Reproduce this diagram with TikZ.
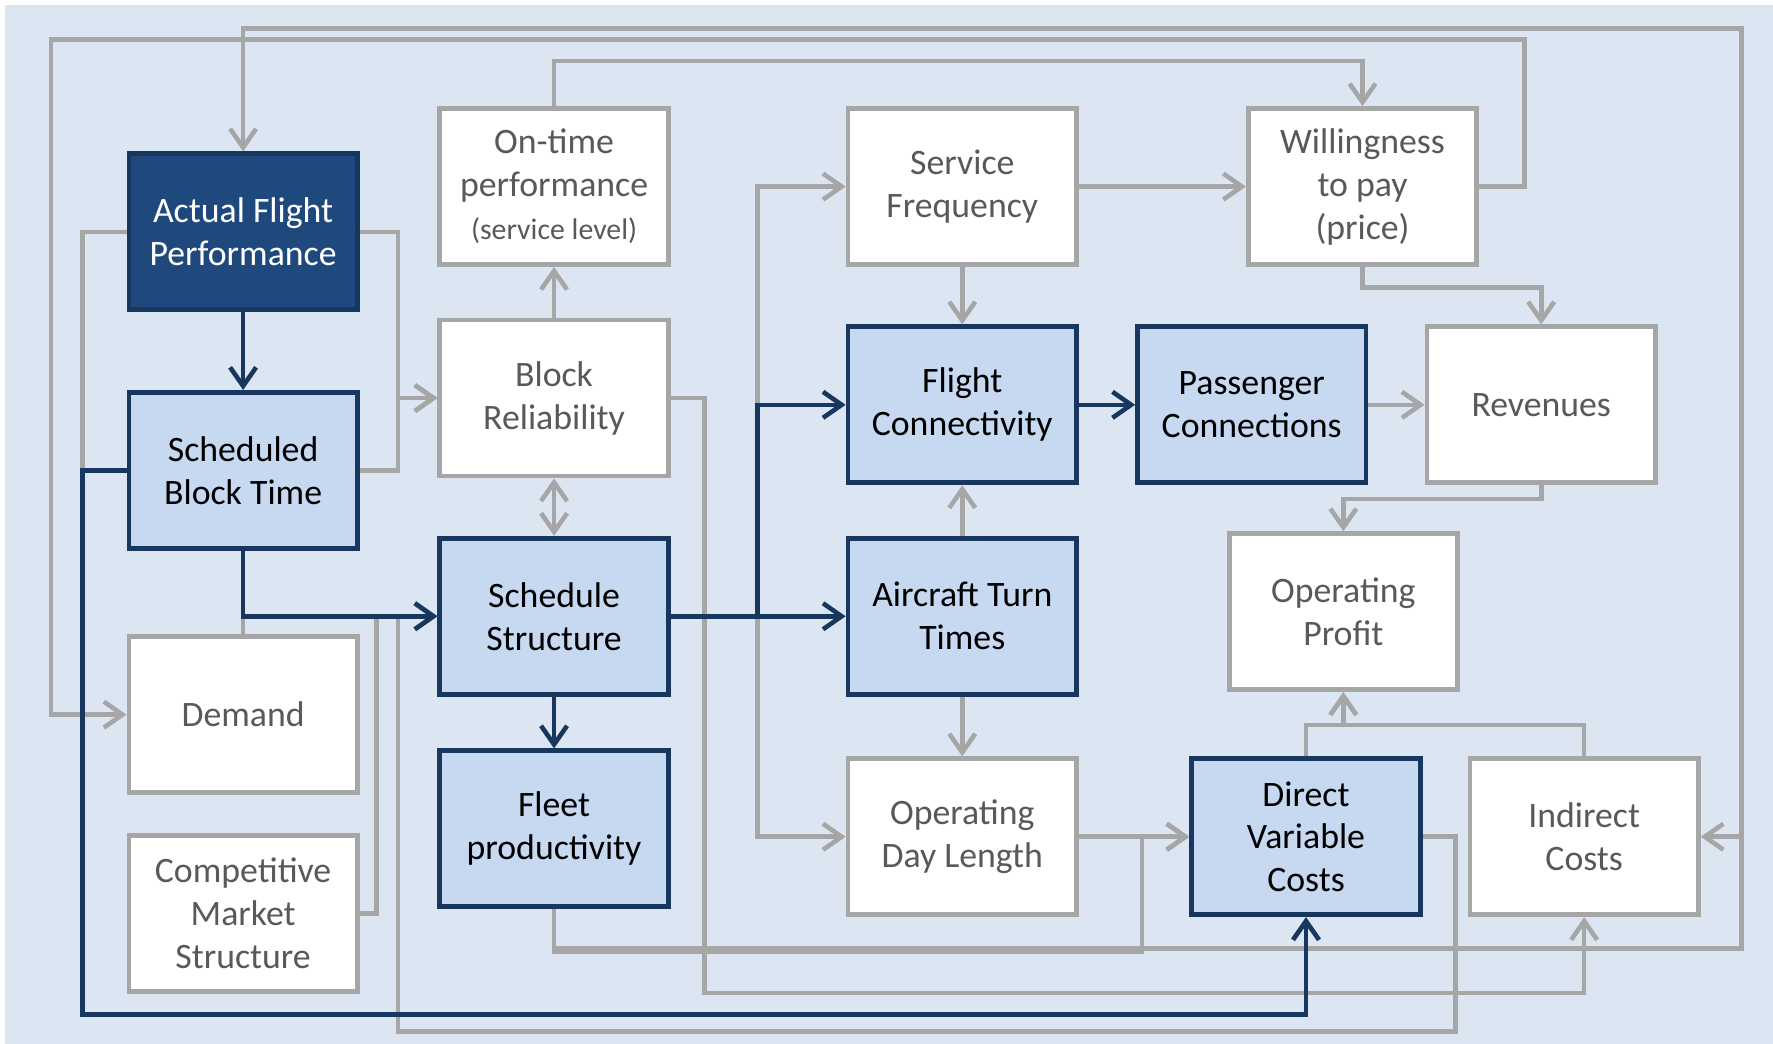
\documentclass[tikz,border=0pt]{standalone}
\usepackage{fontspec}
\setmainfont{Carlito}
\usepackage{tikz}
\usetikzlibrary{arrows.meta, positioning}
\definecolor{PanelBlue}{HTML}{DCE6F2}
\definecolor{LinkGray}{HTML}{A6A6A6}
\definecolor{DeepNavy}{HTML}{17375E}
\definecolor{CoreBlue}{HTML}{1F497D}
\definecolor{SoftBlue}{HTML}{C6D9F1}
\definecolor{LabelGray}{HTML}{595959}
\tikzset{
  % Box styles
  basebox/.style={rectangle, line width=2.4pt, minimum width=40.4mm, minimum height=27.6mm, inner sep=0pt, align=center, font=\fontsize{18}{21.6}\selectfont},
  drivebox/.style={basebox, draw=DeepNavy, fill=CoreBlue, text=white},
  keybox/.style={basebox, draw=DeepNavy, fill=SoftBlue, text=black},
  plainbox/.style={basebox, draw=LinkGray, fill=white, text=LabelGray},
  % Arrow styles
  grayarrow/.style={-{Straight Barb[length=3.3mm, width=4.6mm]}, line width=2.3pt, LinkGray},
  navyarrow/.style={-{Straight Barb[length=3.3mm, width=4.6mm]}, line width=2.3pt, DeepNavy},
  twoarrow/.style={grayarrow, {Straight Barb[length=3.3mm, width=4.6mm]}-{Straight Barb[length=3.3mm, width=4.6mm]}}
}

\begin{document}
\begin{tikzpicture}[x=0.2mm, y=-0.2mm]
  \useasboundingbox (0,0) rectangle (1568,923);
  \fill[PanelBlue] (4,4) rectangle (1568,923);

  % Left column
  \node[drivebox] (afp) at (215,205) {Actual Flight\\Performance};
  \node[keybox] (sbt) at (215,416) {Scheduled\\Block Time};
  \node[plainbox] (demand) at (215,632) {Demand};
  \node[plainbox] (cms) at (215,808) {Competitive\\Market\\Structure};

  % Schedule column
  \node[plainbox] (ontime) at (490,165) {On-time\\performance\\{\fontsize{15}{18}\selectfont(service level)}};
  \node[plainbox] (br) at (490,352) {Block\\Reliability};
  \node[keybox] (ss) at (490,545) {Schedule\\Structure};
  \node[keybox] (fp) at (490,733) {Fleet\\productivity};

  % Network column
  \node[plainbox] (sf) at (851,165) {Service\\Frequency};
  \node[keybox] (fc) at (851,358) {Flight\\Connectivity};
  \node[keybox] (att) at (851,545) {Aircraft Turn\\Times};
  \node[plainbox] (odl) at (851,740) {Operating\\Day Length};

  % Revenue and cost side
  \node[plainbox] (wtp) at (1205,165) {Willingness\\to pay\\(price)};
  \node[keybox] (pc) at (1107,358) {Passenger\\Connections};
  \node[plainbox] (rev) at (1363,358) {Revenues};
  \node[plainbox] (op) at (1188,541) {Operating\\Profit};
  \node[keybox] (dvc) at (1155,740) {Direct\\Variable\\Costs};
  \node[plainbox] (ic) at (1401,740) {Indirect\\Costs};

  % Gray links
  \draw[grayarrow] (wtp.east) -- ++(40,0) |- (45,35) |- (demand.west);
  \draw[grayarrow] (fp.south) |- (1540,839) -- (1540,25) -| (afp.north);
  \draw[grayarrow] (fp.south) |- (1540,839) |- (ic.east);
  \draw[grayarrow] (afp.west) -| (73,897) -| (dvc.south);
  \draw[grayarrow] (afp.east) -| (352,352) -- (br.west);
  \draw[grayarrow] (sbt.east) -| (352,352) -- (br.west);
  \draw[grayarrow] (br.north) -- (ontime.south);
  \draw[twoarrow] (br.south) -- (ss.north);
  \draw[grayarrow] (ontime.north) -- ++(0,-40) -| (wtp.north);
  \draw[grayarrow] (ss.east) -| (670,165) -- (sf.west);
  \draw[grayarrow] (ss.east) -| (670,740) -- (odl.west);
  \draw[grayarrow] (sf.south) -- (fc.north);
  \draw[grayarrow] (sf.east) -- (wtp.west);
  \draw[grayarrow] (wtp.south) -- ++(0,18) -| (rev.north);
  \draw[grayarrow] (pc.east) -- (rev.west);
  \draw[grayarrow] (rev.south) -- ++(0,12) -| (op.north);
  \draw[grayarrow] (att.north) -- (fc.south);
  \draw[grayarrow] (att.south) -- (odl.north);
  \draw[grayarrow] (odl.east) -- (dvc.west);
  \draw[grayarrow] (dvc.north) |- (1188,641) -- (op.south);
  \draw[grayarrow] (ic.north) |- (1188,641) -- (op.south);
  \draw[grayarrow] (fp.south) |- (1010,842) |- (dvc.west);
  \draw[grayarrow] (br.east) -| (623,878) -| (ic.south);
  \draw[grayarrow] (dvc.east) -| (1287,912) -| (352,545) -- (ss.west);
  \draw[grayarrow] (cms.east) -| (333,545) -- (ss.west);
  \draw[grayarrow] (demand.north) |- (ss.west);

  % Navy links
  \draw[navyarrow] (afp.south) -- (sbt.north);
  \draw[navyarrow] (sbt.south) |- (ss.west);
  \draw[navyarrow] (ss.east) -- (att.west);
  \draw[navyarrow] (ss.east) -| (670,358) -- (fc.west);
  \draw[navyarrow] (fc.east) -- (pc.west);
  \draw[navyarrow] (ss.south) -- (fp.north);
  \draw[navyarrow] (sbt.west) -| (73,897) -| (dvc.south);
\end{tikzpicture}
\end{document}
